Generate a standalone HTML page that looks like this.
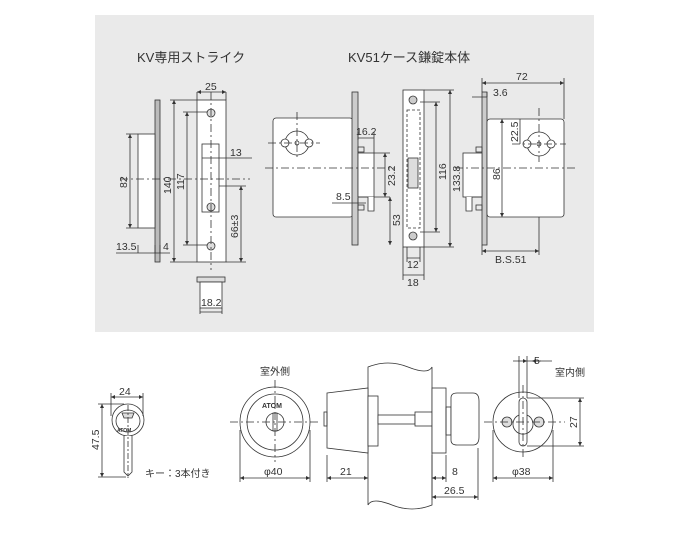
<!DOCTYPE html>
<html><head><meta charset="utf-8"><style>
html,body{margin:0;padding:0;background:#fff;}
svg{display:block;}
text{font-family:"Liberation Sans","Noto Sans CJK JP",sans-serif;fill:#333;}
</style></head><body>
<svg width="678" height="544" viewBox="0 0 678 544" xmlns="http://www.w3.org/2000/svg">
<defs>
<marker id="a" viewBox="0 0 6 6" refX="6" refY="3" markerWidth="5" markerHeight="5" orient="auto-start-reverse"><path d="M0,0L6,3L0,6z" fill="#333"/></marker>
</defs>
<rect x="95" y="15" width="499" height="317" fill="#eaeaea"/>
<g stroke="#333" stroke-width="0.8" fill="none">
<rect x="155" y="100" width="5" height="162" fill="#bbb"/>
<rect x="138" y="134" width="17" height="94" fill="#fff"/>
<rect x="197" y="100" width="29" height="162" fill="#fff"/>
<rect x="202" y="144" width="17" height="68"/>
<circle cx="211" cy="113" r="4" fill="#ddd"/><circle cx="211" cy="207" r="4" fill="#ddd"/><circle cx="211" cy="246" r="4" fill="#ddd"/>
<path d="M211,92V270" stroke-dasharray="8,3,2,3"/>
<path d="M120,179H250" stroke-dasharray="8,3,2,3"/>
<rect x="197" y="277" width="28" height="5" fill="#ddd"/><rect x="200" y="282" width="22" height="26" fill="#fff"/>
<path d="M197,92H226" marker-start="url(#a)" marker-end="url(#a)"/>
<path d="M197,92V100M226,92V100"/>
<path d="M130,134V228" marker-start="url(#a)" marker-end="url(#a)"/>
<path d="M126,134H138M126,228H138"/>
<path d="M174,100V262" marker-start="url(#a)" marker-end="url(#a)"/>
<path d="M170,100H197M170,262H197"/>
<path d="M187,112V245" marker-start="url(#a)" marker-end="url(#a)"/>
<path d="M183,112H207M183,245H207"/>
<path d="M202,158H252"/>
<path d="M219,186H246M226,262H246"/>
<path d="M241,186V262" marker-start="url(#a)" marker-end="url(#a)"/>
<path d="M116,253H170M138,253V245M155,253V245M160,253V245"/>
<path d="M200,312H222M200,308V314M222,308V314"/>
<rect x="273" y="118" width="80" height="99" rx="3" fill="#fff"/>
<rect x="352" y="92" width="6" height="153" fill="#ccc"/>
<rect x="358" y="153" width="16" height="44" fill="#fff"/>
<path d="M358,197h10v14h6v-14" fill="#fff"/>
<rect x="358" y="147" width="6" height="5"/><rect x="358" y="205" width="6" height="5"/>
<circle cx="297" cy="143" r="12" fill="#fff"/><circle cx="285" cy="143" r="4" fill="#fff"/><circle cx="309" cy="143" r="4" fill="#fff"/><circle cx="297" cy="143" r="2"/>
<path d="M297,112V160M268,143H320M265,168H395" stroke-dasharray="8,3,2,3"/>
<path d="M358,138H374M358,132V140M374,132V153"/>
<path d="M385,153V197" marker-start="url(#a)" marker-end="url(#a)"/>
<path d="M374,153H390M374,197H390"/>
<path d="M390,197V245" marker-start="url(#a)" marker-end="url(#a)"/>
<path d="M332,203H366M358,198V208"/>
<rect x="403" y="90" width="21" height="157" fill="#fff"/>
<rect x="407" y="110" width="13" height="118" stroke-dasharray="3,2"/>
<rect x="408" y="158" width="10" height="30" fill="#ddd"/>
<circle cx="413" cy="100" r="4" fill="#ccc"/><circle cx="413" cy="236" r="4" fill="#ccc"/>
<path d="M403,247V280M424,247V280M407,247V262M420,247V262"/>
<path d="M407,258H420M403,275H424"/>
<path d="M436,102V232" marker-start="url(#a)" marker-end="url(#a)"/>
<path d="M420,102H440M420,232H440"/>
<path d="M450,90V247" marker-start="url(#a)" marker-end="url(#a)"/>
<path d="M424,90H454M424,247H454"/>
<rect x="482" y="92" width="5" height="153" fill="#ccc"/>
<rect x="487" y="119" width="77" height="98" rx="3" fill="#fff"/>
<rect x="463" y="153" width="19" height="44" fill="#fff"/>
<path d="M482,197h-10v14h-6v-14" fill="#fff"/>
<rect x="476" y="147" width="6" height="5"/><rect x="476" y="205" width="6" height="5"/>
<circle cx="539" cy="144" r="12" fill="#fff"/><circle cx="527" cy="144" r="4" fill="#fff"/><circle cx="551" cy="144" r="4" fill="#fff"/><circle cx="539" cy="144" r="2"/>
<path d="M539,108V162M512,144H566M455,168H575" stroke-dasharray="8,3,2,3"/>
<path d="M482,83H564" marker-start="url(#a)" marker-end="url(#a)"/>
<path d="M482,78V92M564,78V119"/>
<path d="M472,97H487M487,92V97"/>
<path d="M502,119V217" marker-start="url(#a)" marker-end="url(#a)"/>
<path d="M520,119V144"/>
<path d="M482,251H539" marker-start="url(#a)" marker-end="url(#a)"/>
<path d="M482,245V255M539,217V255"/>
<circle cx="128" cy="420" r="16" fill="#fff"/>
<ellipse cx="128" cy="421" rx="12" ry="11"/>
<path d="M122,413h12l-2,5h-8z" fill="#ddd"/>
<path d="M124,436V472l4,4l4,-4V436" fill="#fff"/>
<path d="M128,405V478" stroke-dasharray="6,2,2,2"/>
<path d="M111,397H143" marker-start="url(#a)" marker-end="url(#a)"/>
<path d="M111,393V416M143,393V416"/>
<path d="M102,404V477" marker-start="url(#a)" marker-end="url(#a)"/>
<path d="M98,404H124M98,477H126"/>
<circle cx="275" cy="422" r="35" fill="#fff"/>
<circle cx="275" cy="422" r="28"/>
<circle cx="275" cy="422" r="9" fill="#fff"/>
<rect x="273" y="413" width="4" height="18"/>
<path d="M275,380V462M230,422H318" stroke-dasharray="8,3,2,3"/>
<path d="M240,478H310" marker-start="url(#a)" marker-end="url(#a)"/>
<path d="M240,430V482M310,430V482"/>
<path d="M368,367q20,-8 40,0t24,0V505q-20,8 -40,0t-24,0z" fill="#fff"/>
<path d="M327,393L368,388V453L327,448z" fill="#fff"/>
<rect x="324" y="412" width="3" height="14"/>
<rect x="368" y="396" width="10" height="50" fill="#fff"/>
<rect x="378" y="415" width="37" height="9" fill="#fff"/>
<rect x="415" y="412" width="17" height="14" fill="#fff"/>
<rect x="432" y="388" width="14" height="65" fill="#fff"/>
<rect x="446" y="407" width="5" height="28"/>
<path d="M451,398q0,-5 6,-5h16q6,0 6,8v36q0,8 -6,8h-16q-6,0 -6,-5z" fill="#fff"/>
<path d="M327,478H368" marker-start="url(#a)" marker-end="url(#a)"/>
<path d="M327,455V482"/>
<path d="M432,478H446" marker-start="url(#a)" marker-end="url(#a)"/>
<path d="M432,497H478" marker-start="url(#a)" marker-end="url(#a)"/>
<path d="M446,455V482M478,448V500M432,455V500"/>
<circle cx="523" cy="422" r="30" fill="#fff"/>
<rect x="519" y="398" width="8" height="48" rx="4" fill="#fff"/>
<path d="M519,415a10,10 0 1,0 8,0"/>
<circle cx="507" cy="422" r="5" fill="#ddd"/><circle cx="539" cy="422" r="5" fill="#ddd"/>
<path d="M523,385V460M484,422H565" stroke-dasharray="8,3,2,3"/>
<path d="M518,361H527" marker-end="url(#a)"/><path d="M541,361H532" marker-end="url(#a)"/>
<path d="M513,361H519M527,361H552"/>
<path d="M519,356V398M527,356V398"/>
<path d="M580,398V446" marker-start="url(#a)" marker-end="url(#a)"/>
<path d="M527,398H584M527,446H584"/>
<path d="M493,478H553" marker-start="url(#a)" marker-end="url(#a)"/>
<path d="M493,430V482M553,430V482"/>
</g>
<g font-size="10.5">
<text x="137" y="62" font-size="13">KV専用ストライク</text>
<text x="348" y="62" font-size="13">KV51ケース鎌錠本体</text>
<text x="205" y="90">25</text>
<text x="230" y="156">13</text>
<text x="116" y="250">13.5</text>
<text x="163" y="250">4</text>
<text x="201" y="306">18.2</text>
<text transform="translate(127,188) rotate(-90)">82</text>
<text transform="translate(171,194) rotate(-90)">140</text>
<text transform="translate(184,190) rotate(-90)">117</text>
<text transform="translate(238,238) rotate(-90)">66±3</text>
<text x="356" y="135">16.2</text>
<text x="336" y="200">8.5</text>
<text transform="translate(395,186) rotate(-90)">23.2</text>
<text transform="translate(400,226) rotate(-90)">53</text>
<text transform="translate(446,180) rotate(-90)">116</text>
<text transform="translate(460,192) rotate(-90)">133.8</text>
<text x="407" y="268">12</text>
<text x="407" y="286">18</text>
<text x="516" y="80">72</text>
<text x="493" y="96">3.6</text>
<text transform="translate(518,142) rotate(-90)">22.5</text>
<text transform="translate(500,180) rotate(-90)">86</text>
<text x="495" y="263">B.S.51</text>
<text x="119" y="395">24</text>
<text transform="translate(99,450) rotate(-90)">47.5</text>
<text x="145" y="477" font-size="10">キー：3本付き</text>
<text x="260" y="375" font-size="10">室外側</text>
<text x="264" y="475">φ40</text>
<text x="340" y="475">21</text>
<text x="452" y="475">8</text>
<text x="444" y="494">26.5</text>
<text x="512" y="475">φ38</text>
<text x="534" y="364">5</text>
<text x="555" y="376" font-size="10">室内側</text>
<text transform="translate(577,428) rotate(-90)">27</text>
<text x="262" y="408" font-size="7" font-weight="bold">ATOM</text>
<text x="117" y="432" font-size="5" font-weight="bold">ATOM</text>
</g>
</svg>
</body></html>
